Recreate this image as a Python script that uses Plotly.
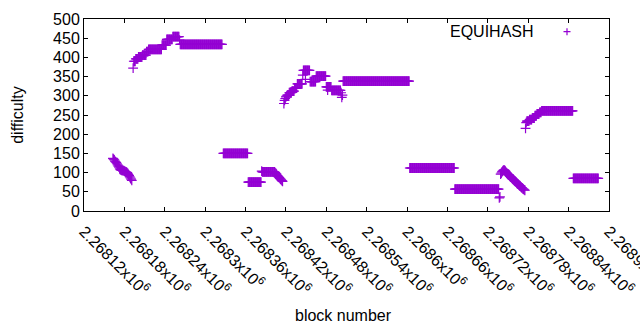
import plotly.graph_objects as go

# ---- data ----
# plateaus: runs of consecutive blocks sharing one difficulty value
run_first = [2268194, 2268197, 2268201, 2268207, 2268213, 2268216, 2268236, 2268243, 2268252,
             2268263, 2268327, 2268364, 2268385,
             2268422, 2268425, 2268429, 2268433, 2268437,
             2268446, 2268456, 2268465, 2268480, 2268488, 2268505,
             2268604, 2268671,
             2268778, 2268782, 2268786, 2268790, 2268793, 2268797, 2268800,
             2268847]
run_last = [2268196, 2268200, 2268206, 2268212, 2268215, 2268235, 2268242, 2268251, 2268261,
            2268325, 2268363, 2268383, 2268403,
            2268424, 2268428, 2268432, 2268436, 2268444,
            2268455, 2268464, 2268479, 2268487, 2268501, 2268603,
            2268670, 2268736,
            2268781, 2268785, 2268789, 2268792, 2268796, 2268799, 2268846,
            2268884]
run_diff = [390, 396, 401, 406, 415, 421, 432, 447, 454,
            434, 150, 75, 102,
            302, 308, 312, 320, 331,
            366, 337, 351, 323, 314, 338,
            112, 57,
            234, 238, 242, 248, 253, 257, 261,
            85]

# sequences of consecutive blocks with individually read values
seq_start = [2268163, 2268193, 2268262, 2268384, 2268404, 2268417, 2268445,
             2268449, 2268482, 2268502, 2268737, 2268776]
seq_values = [
    [137, 135, 133, 130, 128, 126, 123, 120, 117, 114, 110, 108, 107, 106, 106,
     105, 105, 104, 103, 102, 101, 100, 98, 95, 92, 89, 86, 83, 80],
    [372],
    [445],
    [104],
    [100, 98, 96, 93, 91, 89, 87, 85, 83, 81, 79, 77],
    [280, 288, 293, 297, 299],
    [354],
    [343],
    [315],
    [308, 296, 302],
    [34, 37, 96, 99, 102, 104, 106, 107, 106, 104, 101, 99, 97, 95, 94, 92, 90, 88,
     87, 85, 83, 82, 80, 78, 77, 75, 73, 71, 70, 68, 66, 65, 63, 61, 60, 58, 57,
     55, 54],
    [215, 230],
]

x_tickvals = [2268120, 2268180, 2268240, 2268300, 2268360, 2268420, 2268480,
              2268540, 2268600, 2268660, 2268720, 2268780, 2268840, 2268900]
x_ticklabels = ["2.26812", "2.26818", "2.26824", "2.2683", "2.26836", "2.26842",
                "2.26848", "2.26854", "2.2686", "2.26866", "2.26872", "2.26878",
                "2.26884", "2.2689"]
series_name = "EQUIHASH"

# ---- assemble points ----
pts = []
for a, b, d in zip(run_first, run_last, run_diff):
    for blk in range(a, b + 1):
        pts.append((blk, d))
for s, vals in zip(seq_start, seq_values):
    for i, v in enumerate(vals):
        pts.append((s + i, v))
pts.sort()
xs = [p[0] for p in pts]
ys = [p[1] for p in pts]

COLOR = "#9400D3"
FONT = "Liberation Sans, Arial, sans-serif"

fig = go.Figure()
fig.add_trace(go.Scatter(
    x=xs, y=ys, mode="markers", name=series_name, showlegend=False,
    marker=dict(symbol="cross-thin-open", size=7, color=COLOR,
                line=dict(color=COLOR, width=1.2)),
))

axis_common = dict(showline=True, linecolor="black", linewidth=1, mirror="allticks",
                   ticks="inside", ticklen=4, tickcolor="black", showgrid=False,
                   zeroline=False, automargin=False, ticklabeloverflow="allow",
                   tickfont=dict(family=FONT, size=16, color="black"))

fig.update_layout(
    width=640, height=330,
    margin=dict(l=84, r=31, t=19, b=119),
    paper_bgcolor="white", plot_bgcolor="white",
    font=dict(family=FONT, size=16, color="black"),
    xaxis=dict(range=[2268120, 2268900], tickvals=x_tickvals,
               ticktext=[t + "x10<sup>6</sup>" for t in x_ticklabels],
               tickangle=45, ticklabelstandoff=4, **axis_common),
    yaxis=dict(range=[0, 500], dtick=50, tick0=0, **axis_common),
    showlegend=False,
)

# axis titles
fig.add_annotation(text="difficulty", xref="paper", yref="paper", x=-0.128, y=0.5,
                   xanchor="center", yanchor="middle",
                   textangle=-90, showarrow=False, font=dict(family=FONT, size=16))
fig.add_annotation(text="block number", xref="paper", yref="paper", x=0.495, y=-0.5425,
                   xanchor="center", yanchor="middle",
                   showarrow=False, font=dict(family=FONT, size=16))

# key (gnuplot style: text then sample)
fig.add_annotation(text=series_name, xref="paper", yref="paper", x=0.861, y=0.934,
                   xanchor="right", yanchor="middle", showarrow=False,
                   font=dict(family=FONT, size=16))
fig.add_shape(type="path", xref="paper", yref="paper", xsizemode="pixel", ysizemode="pixel",
              xanchor=0.92, yanchor=0.934, path="M-3.5,0 H3.5 M0,-3.5 V3.5",
              line=dict(color=COLOR, width=1.2))

fig.write_html("out.html")
